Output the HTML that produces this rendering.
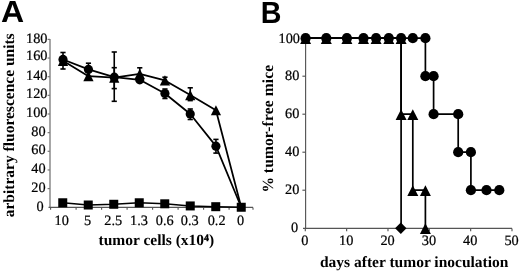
<!DOCTYPE html><html><head><meta charset="utf-8"><style>html,body{margin:0;padding:0;background:#fff;}svg{display:block;filter:blur(0.35px);} text{text-rendering:geometricPrecision;}</style></head><body>
<svg width="520" height="272" viewBox="0 0 520 272">
<rect width="520" height="272" fill="#fff"/>
<text transform="translate(0.97,22.0) scale(0.525,0.5)" font-family="Liberation Sans" font-weight="bold" font-size="61.0" fill="#000">A</text>
<text transform="translate(260.75,22.9) scale(0.47,0.5)" font-family="Liberation Sans" font-weight="bold" font-size="61.0" fill="#000">B</text>
<g stroke="#8a8a8a" stroke-width="1.5" fill="none">
<line x1="50.0" y1="39.0" x2="50.0" y2="207.4"/>
</g>
<g stroke="#777" stroke-width="1.2" fill="none">
<line x1="47.6" y1="188.60" x2="50.0" y2="188.60"/>
<line x1="47.6" y1="169.95" x2="50.0" y2="169.95"/>
<line x1="47.6" y1="151.30" x2="50.0" y2="151.30"/>
<line x1="47.6" y1="132.65" x2="50.0" y2="132.65"/>
<line x1="47.6" y1="114.00" x2="50.0" y2="114.00"/>
<line x1="47.6" y1="95.35" x2="50.0" y2="95.35"/>
<line x1="47.6" y1="76.70" x2="50.0" y2="76.70"/>
<line x1="47.6" y1="58.05" x2="50.0" y2="58.05"/>
<line x1="47.6" y1="39.40" x2="50.0" y2="39.40"/>
</g>
<g stroke="#555" stroke-width="1.1" fill="none">
<line x1="48.5" y1="207.4" x2="253" y2="207.4"/>
<line x1="50.60" y1="207.4" x2="50.60" y2="209.8"/>
<line x1="76.10" y1="207.4" x2="76.10" y2="209.8"/>
<line x1="101.60" y1="207.4" x2="101.60" y2="209.8"/>
<line x1="127.10" y1="207.4" x2="127.10" y2="209.8"/>
<line x1="152.60" y1="207.4" x2="152.60" y2="209.8"/>
<line x1="178.10" y1="207.4" x2="178.10" y2="209.8"/>
<line x1="203.60" y1="207.4" x2="203.60" y2="209.8"/>
<line x1="229.10" y1="207.4" x2="229.10" y2="209.8"/>
<line x1="253.00" y1="207.4" x2="253.00" y2="209.8"/>
</g>
<g font-family="Liberation Serif" font-size="14.3" fill="#000" stroke="#000" stroke-width="0.22" text-anchor="end">
<text x="43.75" y="211.30">0</text>
<text x="45.55" y="192.20">20</text>
<text x="45.55" y="173.20">40</text>
<text x="45.55" y="153.70">60</text>
<text x="45.55" y="135.80">80</text>
<text x="47.45" y="116.60">100</text>
<text x="47.45" y="98.40">120</text>
<text x="47.45" y="79.60">140</text>
<text x="47.45" y="59.60">160</text>
<text x="47.45" y="42.60">180</text>
</g>
<g font-family="Liberation Serif" font-size="14.3" fill="#000" stroke="#000" stroke-width="0.22" text-anchor="middle">
<text x="61.75" y="225.1">10</text>
<text x="87.65" y="225.1">5</text>
<text x="113.25" y="225.1">2.5</text>
<text x="138.95" y="225.1">1.3</text>
<text x="164.75" y="225.1">0.6</text>
<text x="189.75" y="225.1">0.3</text>
<text x="216.65" y="225.1">0.2</text>
<text x="240.65" y="225.1">0</text>
</g>
<text x="98.5" y="245.2" font-family="Liberation Serif" font-weight="bold" font-size="15.5" fill="#000">tumor cells (x10<tspan font-size="9.8" dy="-4" stroke="#000" stroke-width="0.35">4</tspan><tspan dy="4">)</tspan></text>
<text transform="translate(13.7,217.3) rotate(-90)" font-family="Liberation Serif" font-weight="bold" font-size="15.5" fill="#000">arbitrary fluorescence units</text>
<g stroke="#000" stroke-width="1.75" fill="none" stroke-linejoin="round">
<polyline points="63.00,59.45 88.45,69.43 114.25,77.17 139.75,79.78 164.95,93.49 190.25,114.00 215.95,146.17 241.25,207.25"/>
<polyline points="63.00,60.85 88.45,76.14 114.25,77.63 139.75,73.90 164.95,80.43 190.25,95.07 215.95,110.27 241.25,207.25"/>
<polyline points="62.75,202.77 88.25,205.01 113.75,204.27 139.25,202.77 164.75,203.80 190.25,205.94 215.75,206.69 241.25,207.25" stroke-width="1.5"/>
</g>
<g stroke="#000" stroke-width="1.6" fill="none">
<line x1="63.00" y1="52.5" x2="63.00" y2="69"/>
<line x1="60.40" y1="52.5" x2="65.60" y2="52.5"/>
<line x1="60.40" y1="69" x2="65.60" y2="69"/>
<line x1="85.85" y1="63.2" x2="91.05" y2="63.2"/>
<line x1="88.45" y1="63.2" x2="88.45" y2="68.2"/>
<line x1="114.25" y1="52" x2="114.25" y2="101.3"/>
<line x1="111.65" y1="52" x2="116.85" y2="52"/>
<line x1="111.65" y1="101.3" x2="116.85" y2="101.3"/>
<line x1="114.25" y1="67.7" x2="114.25" y2="88.6"/>
<line x1="111.65" y1="67.7" x2="116.85" y2="67.7"/>
<line x1="111.65" y1="88.6" x2="116.85" y2="88.6"/>
<line x1="137.15" y1="67.8" x2="142.35" y2="67.8"/>
<line x1="139.75" y1="67.8" x2="139.75" y2="72.8"/>
<line x1="162.35" y1="77.2" x2="167.55" y2="77.2"/>
<line x1="164.95" y1="77.2" x2="164.95" y2="82.2"/>
<line x1="190.25" y1="87.8" x2="190.25" y2="100.6"/>
<line x1="187.65" y1="87.8" x2="192.85" y2="87.8"/>
<line x1="187.65" y1="100.6" x2="192.85" y2="100.6"/>
<line x1="215.95" y1="139.4" x2="215.95" y2="153.1"/>
<line x1="213.35" y1="139.4" x2="218.55" y2="139.4"/>
<line x1="213.35" y1="153.1" x2="218.55" y2="153.1"/>
<line x1="190.25" y1="109" x2="190.25" y2="119.5"/>
<line x1="187.65" y1="109" x2="192.85" y2="109"/>
<line x1="187.65" y1="119.5" x2="192.85" y2="119.5"/>
<line x1="164.95" y1="89" x2="164.95" y2="98.5"/>
<line x1="162.35" y1="89" x2="167.55" y2="89"/>
<line x1="162.35" y1="98.5" x2="167.55" y2="98.5"/>
</g>
<g fill="#000">
<circle cx="63.00" cy="59.45" r="4.6"/>
<circle cx="88.45" cy="69.43" r="4.6"/>
<circle cx="114.25" cy="77.17" r="4.6"/>
<circle cx="139.75" cy="79.78" r="4.6"/>
<circle cx="164.95" cy="93.49" r="4.6"/>
<circle cx="190.25" cy="114.00" r="4.6"/>
<circle cx="215.95" cy="146.17" r="4.6"/>
<path d="M63.00,55.75 L68.10,65.95 L57.90,65.95Z"/>
<path d="M88.45,71.04 L93.55,81.24 L83.35,81.24Z"/>
<path d="M114.25,72.53 L119.35,82.73 L109.15,82.73Z"/>
<path d="M139.75,68.80 L144.85,79.00 L134.65,79.00Z"/>
<path d="M164.95,75.33 L170.05,85.53 L159.85,85.53Z"/>
<path d="M190.25,89.97 L195.35,100.17 L185.15,100.17Z"/>
<path d="M215.95,105.17 L221.05,115.37 L210.85,115.37Z"/>
<rect x="58.25" y="198.27" width="9" height="9"/>
<rect x="83.75" y="200.51" width="9" height="9"/>
<rect x="109.25" y="199.77" width="9" height="9"/>
<rect x="134.75" y="198.27" width="9" height="9"/>
<rect x="160.25" y="199.30" width="9" height="9"/>
<rect x="185.75" y="201.44" width="9" height="9"/>
<rect x="211.25" y="202.19" width="9" height="9"/>
<rect x="236.75" y="202.75" width="9" height="9"/>
</g>
<g stroke="#555" stroke-width="1.15" fill="none">
<line x1="305.6" y1="38.20" x2="305.6" y2="228.4"/>
<line x1="303" y1="228.4" x2="512.0" y2="228.4"/>
<line x1="302.4" y1="190.20" x2="305.6" y2="190.20"/>
<line x1="302.4" y1="152.20" x2="305.6" y2="152.20"/>
<line x1="302.4" y1="114.20" x2="305.6" y2="114.20"/>
<line x1="302.4" y1="76.20" x2="305.6" y2="76.20"/>
<line x1="302.4" y1="38.20" x2="305.6" y2="38.20"/>
<line x1="305.30" y1="228.4" x2="305.30" y2="231.2"/>
<line x1="346.64" y1="228.4" x2="346.64" y2="231.2"/>
<line x1="387.98" y1="228.4" x2="387.98" y2="231.2"/>
<line x1="429.32" y1="228.4" x2="429.32" y2="231.2"/>
<line x1="470.66" y1="228.4" x2="470.66" y2="231.2"/>
<line x1="512.00" y1="228.4" x2="512.00" y2="231.2"/>
</g>
<g font-family="Liberation Serif" font-size="14.3" fill="#000" stroke="#000" stroke-width="0.22" text-anchor="end">
<text x="298.15" y="231.90">0</text>
<text x="299.35" y="193.60">20</text>
<text x="299.35" y="155.60">40</text>
<text x="299.35" y="118.40">60</text>
<text x="299.35" y="80.20">80</text>
<text x="299.95" y="42.60">100</text>
</g>
<g font-family="Liberation Serif" font-size="14.3" fill="#000" stroke="#000" stroke-width="0.22" text-anchor="middle">
<text x="304.90" y="245.1">0</text>
<text x="346.24" y="245.1">10</text>
<text x="387.58" y="245.1">20</text>
<text x="428.92" y="245.1">30</text>
<text x="470.26" y="245.1">40</text>
<text x="511.60" y="245.1">50</text>
</g>
<text x="320" y="267.4" font-family="Liberation Serif" font-weight="bold" font-size="15.5" fill="#000">days after tumor inoculation</text>
<g transform="translate(272.6,192.5) rotate(-90)" font-family="Liberation Serif" font-weight="bold" fill="#000"><text x="0" y="0" font-size="15.5">%</text><text x="19.35" y="0" font-size="15.5" textLength="108.35" lengthAdjust="spacing">tumor-free mice</text></g>
<g stroke="#000" stroke-width="1.7" fill="none">
<path d="M305.60,38.20 L425.40,38.20 L425.40,76.20 L433.60,76.20 L433.60,114.20 L458.20,114.20 L458.20,152.20 L470.90,152.20 L470.90,190.20 L499.30,190.20"/>
<path d="M305.60,38.20 L401.10,38.20 L401.10,114.20 L412.80,114.20 L412.80,190.20 L425.40,190.20 L425.40,228.20"/>
<path d="M305.60,38.20 L401.10,38.20 L401.10,228.20"/>
</g>
<g fill="#000">
<path d="M400.80,222.50 L406.50,228.20 L400.80,233.90 L395.10,228.20Z"/>
<path d="M305.60,33.30 L311.10,43.90 L300.10,43.90Z"/>
<path d="M326.30,33.30 L331.80,43.90 L320.80,43.90Z"/>
<path d="M346.90,33.30 L352.40,43.90 L341.40,43.90Z"/>
<path d="M363.50,33.30 L369.00,43.90 L358.00,43.90Z"/>
<path d="M376.10,33.30 L381.60,43.90 L370.60,43.90Z"/>
<path d="M388.80,33.30 L394.30,43.90 L383.30,43.90Z"/>
<path d="M401.10,33.30 L406.60,43.90 L395.60,43.90Z"/>
<path d="M401.10,109.30 L406.60,119.90 L395.60,119.90Z"/>
<path d="M412.80,109.30 L418.30,119.90 L407.30,119.90Z"/>
<path d="M412.80,185.30 L418.30,195.90 L407.30,195.90Z"/>
<path d="M425.40,185.30 L430.90,195.90 L419.90,195.90Z"/>
<path d="M425.40,223.30 L430.90,233.90 L419.90,233.90Z"/>
<circle cx="305.60" cy="38.20" r="5.1"/>
<circle cx="326.30" cy="38.20" r="5.1"/>
<circle cx="346.90" cy="38.20" r="5.1"/>
<circle cx="363.50" cy="38.20" r="5.1"/>
<circle cx="376.10" cy="38.20" r="5.1"/>
<circle cx="388.80" cy="38.20" r="5.1"/>
<circle cx="401.10" cy="38.20" r="5.1"/>
<circle cx="412.80" cy="38.20" r="5.1"/>
<circle cx="425.40" cy="38.20" r="5.1"/>
<circle cx="425.40" cy="76.20" r="5.1"/>
<circle cx="433.60" cy="76.20" r="5.1"/>
<circle cx="433.60" cy="114.20" r="5.1"/>
<circle cx="458.20" cy="114.20" r="5.1"/>
<circle cx="458.20" cy="152.20" r="5.1"/>
<circle cx="470.90" cy="152.20" r="5.1"/>
<circle cx="470.90" cy="190.20" r="5.1"/>
<circle cx="486.50" cy="190.20" r="5.1"/>
<circle cx="499.30" cy="190.20" r="5.1"/>
</g>
</svg></body></html>
